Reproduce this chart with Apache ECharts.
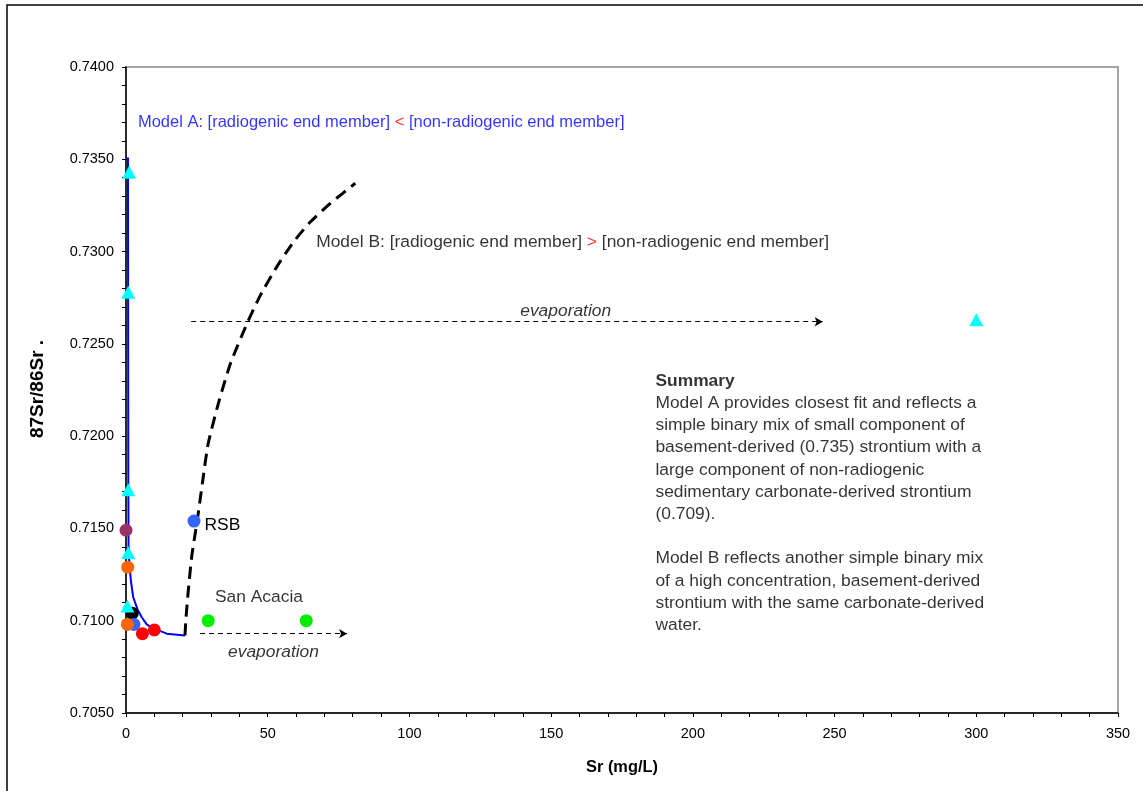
<!DOCTYPE html>
<html>
<head>
<meta charset="utf-8">
<style>
  html, body { margin: 0; padding: 0; background: #ffffff; }
  #chart { width: 1143px; height: 791px; }
</style>
<script src="https://cdn.jsdelivr.net/npm/echarts@6/dist/echarts.min.js"></script>
</head>
<body>
<div id="chart"></div>
<script>
// Sr concentration (mg/L) vs 87Sr/86Sr
const basementSamples = [[1.1, 0.7343], [0.8, 0.7278], [0.8, 0.7171], [0.8, 0.7137], [0.5, 0.7108], [300, 0.7263]];
const purpleSamples = [[0.0, 0.7149]];
const orangeSamples = [[0.6, 0.7129], [0.5, 0.7098]];
const blackSamples = [[2.2, 0.7104]];
const blueSamples = [[2.8, 0.7098]];
const rsbSample = [[24.0, 0.7154]];
const redSamples = [[5.8, 0.7093], [10.0, 0.7095]];
const greenSamples = [[29.0, 0.7100], [63.6, 0.7100]];

// mixing model curves
const modelA = [[0.7, 0.7351], [0.8, 0.7182], [0.9, 0.7137], [1.7, 0.7122], [2.5, 0.7113], [4.1, 0.7106],
  [5.5, 0.7102], [7.3, 0.7098], [9.5, 0.7096], [14.4, 0.7093], [20.8, 0.7092]];
const modelB = [[20.8, 0.7092], [21.2, 0.7102], [21.9, 0.7115], [23.2, 0.7135], [25.2, 0.7155], [27.0, 0.7175],
  [29.0, 0.7196], [33.0, 0.7220], [37.0, 0.7240], [42.7, 0.7261], [47.3, 0.7276], [53.3, 0.7292],
  [59.0, 0.7305], [65.0, 0.7316], [72.0, 0.7326], [80.9, 0.7337]];

// evaporation trends
const evapUpper = [[23.0, 0.7262], [245.8, 0.7262]];
const evapLower = [[26.1, 0.7093], [78.0, 0.7093]];

const xTicks = [0, 50, 100, 150, 200, 250, 300, 350];
const yTicks = [0.705, 0.710, 0.715, 0.720, 0.725, 0.730, 0.735, 0.740];

const FONT = 'Liberation Sans, Arial, sans-serif';
const NOTE_SIZE = 17.4;
const chart = echarts.init(document.getElementById('chart'), null, { renderer: 'canvas' });

function circles(data, color) {
  return {
    type: 'scatter', data: data, symbol: 'circle', symbolSize: 13,
    itemStyle: { color: color, opacity: 1 }, z: 5
  };
}

function note(x, y, text, labelExtra) {
  return { value: [x, y], label: Object.assign({ show: true, formatter: text }, labelExtra || {}) };
}

const arrowLine = (pts) => ({
  type: 'line', data: [], silent: true,
  markLine: {
    silent: true, animation: false,
    symbol: ['none', 'arrow'], symbolSize: [7, 8],
    lineStyle: { color: '#000', width: 1, type: [5, 4] },
    label: { show: false },
    data: [[{ coord: pts[0] }, { coord: pts[1] }]]
  }
});

const option = {
  animation: false,
  backgroundColor: '#ffffff',
  textStyle: { fontFamily: FONT },
  grid: {
    left: 126, right: 25, top: 67, bottom: 78,
    show: true, borderColor: '#a6a6a6', borderWidth: 2, backgroundColor: 'transparent'
  },
  xAxis: {
    type: 'value', min: xTicks[0], max: xTicks[xTicks.length - 1], interval: 50,
    name: 'Sr (mg/L)', nameLocation: 'middle', nameGap: 46,
    nameTextStyle: { fontFamily: FONT, fontSize: 16.4, fontWeight: 'bold', color: '#000' },
    axisLine: { lineStyle: { color: '#000', width: 1.5 } },
    axisTick: { show: true, length: 4, lineStyle: { color: '#000' } },
    minorTick: { show: true, splitNumber: 5, length: 4, lineStyle: { color: '#000' } },
    splitLine: { show: false },
    axisLabel: { fontFamily: FONT, fontSize: 14.5, color: '#000', margin: 13 }
  },
  yAxis: {
    type: 'value', min: yTicks[0], max: yTicks[yTicks.length - 1], interval: 0.005,
    axisLine: { lineStyle: { color: '#000', width: 1.5 } },
    axisTick: { show: true, length: 4, lineStyle: { color: '#000' } },
    minorTick: { show: true, splitNumber: 5, length: 4, lineStyle: { color: '#000' } },
    splitLine: { show: false },
    axisLabel: { fontFamily: FONT, fontSize: 14.5, color: '#000', margin: 12, formatter: v => v.toFixed(4) }
  },
  graphic: [
    { type: 'rect', shape: { x: 7, y: 5, width: 1200, height: 900 },
      style: { fill: 'none', stroke: '#000', lineWidth: 1.5 }, silent: true, z: -1 },
    { type: 'text', x: 38, y: 389, rotation: Math.PI / 2,
      style: { text: '87Sr/86Sr .', font: 'bold 19px ' + FONT, fill: '#000', align: 'center', verticalAlign: 'middle' } }
  ],
  series: [
    { type: 'line', data: modelA, showSymbol: false, symbol: 'none',
      lineStyle: { color: '#0000ff', width: 2 }, z: 3 },
    { type: 'line', data: modelB, showSymbol: false, symbol: 'none', smooth: 0.2,
      lineStyle: { color: '#000', width: 3, type: [12, 7] }, z: 3 },
    arrowLine(evapUpper),
    arrowLine(evapLower),
    circles(blackSamples, '#000000'),
    circles(blueSamples, '#3366ff'),
    circles(orangeSamples, '#ff6600'),
    circles(purpleSamples, '#993366'),
    Object.assign(circles(rsbSample, '#3366ff'), {
      label: { show: true, formatter: 'RSB', position: 'right', distance: 4, offset: [0, 4],
        fontFamily: FONT, fontSize: NOTE_SIZE, color: '#000' }
    }),
    circles(redSamples, '#ff0000'),
    circles(greenSamples, '#00ee00'),
    { type: 'scatter', data: basementSamples, symbol: 'triangle', symbolSize: [14, 13],
      itemStyle: { color: '#00ffff', opacity: 1 }, z: 6 },
    // text annotations anchored in data space
    {
      type: 'scatter', symbolSize: 0, silent: true, z: 7,
      label: { show: true, position: 'right', distance: 0, fontFamily: FONT, fontSize: NOTE_SIZE, color: '#000' },
      data: [
        note(4.2, 0.73702, '{a|Model A: [radiogenic end member] }{r|<}{a| [non-radiogenic end member]}', {
          rich: { a: { color: '#0000ff', fontSize: 16.5, fontFamily: FONT }, r: { color: '#ff0000', fontSize: 16.5, fontFamily: FONT } }
        }),
        note(67.1, 0.73052, '{a|Model B: [radiogenic end member] }{r|>}{a| [non-radiogenic end member]}', {
          rich: { a: { color: '#000', fontSize: NOTE_SIZE, fontFamily: FONT }, r: { color: '#ff0000', fontSize: NOTE_SIZE, fontFamily: FONT } }
        }),
        note(31.4, 0.71129, 'San Acacia'),
        note(139.1, 0.72678, 'evaporation', { fontStyle: 'italic' }),
        note(36.0, 0.70831, 'evaporation', { fontStyle: 'italic' }),
        note(186.8, 0.72359, [
          '{b|Summary}',
          'Model A provides closest fit and reflects a',
          'simple binary mix of small component of',
          'basement-derived (0.735) strontium with a',
          'large component of non-radiogenic',
          'sedimentary carbonate-derived strontium',
          '(0.709).',
          '',
          'Model B reflects another simple binary mix',
          'of a high concentration, basement-derived',
          'strontium with the same carbonate-derived',
          'water.'
        ].join('\n'), {
          position: [0, 0], align: 'left', verticalAlign: 'top', lineHeight: 22.2,
          rich: { b: { fontWeight: 'bold', fontSize: NOTE_SIZE, fontFamily: FONT, lineHeight: 22.2, color: '#000' } }
        })
      ]
    }
  ]
};

chart.setOption(option);
</script>
</body>
</html>
